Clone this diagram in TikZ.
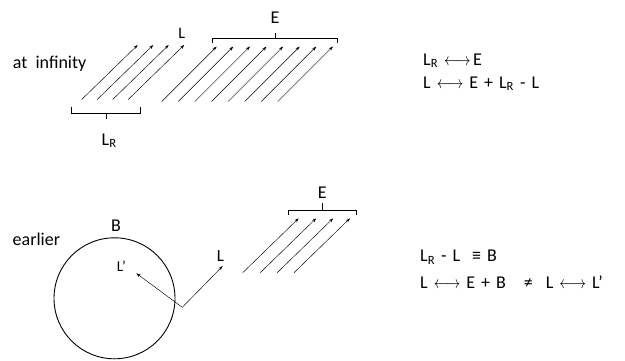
\documentclass[tikz,border=0pt]{standalone}
\usepackage{graphicx}
\usepackage{fontspec}
\setmainfont{Carlito}
\usetikzlibrary{arrows.meta}
\newcommand{\lra}{\scalebox{0.84}[1]{$\longleftrightarrow$}}
\newcommand{\eqfont}{\fontsize{18}{21}\selectfont\spaceskip 6pt\relax}
\begin{document}
\begin{tikzpicture}[x=1pt,y=-1pt,
  ray/.style={line width=0.45pt,-{Stealth[length=4.5pt,width=3pt]}},
  brace/.style={line width=0.8pt},
  lbl/.style={inner sep=0pt,font=\fontsize{18}{21}\selectfont},
  eq/.style={inner sep=0pt,anchor=base west,font=\eqfont}]
\useasboundingbox (0,0) rectangle (625,360);
% top: at infinity
\node[lbl,anchor=base west] (inf) at (12.7,68.3) {at\ \ infinity};
\foreach \i/\x in {1/81.7,2/97.2,3/112.7,4/128.2}{
  \coordinate (la\i) at (\x,99.5);
  \coordinate (lb\i) at (\x+56,45);
  \draw[ray] (la\i) -- (lb\i);
}
\foreach \i in {0,...,7}{
  \coordinate (ea\i) at (161.7+16.6*\i,101.5);
  \coordinate (eb\i) at (216.7+16.6*\i,46.5);
  \draw[ray] (ea\i) -- (eb\i);
}
% E brace top
\coordinate (e1) at (212.3,42.7);
\coordinate (e2) at (212.3,38.3);
\coordinate (e3) at (337.3,38.3);
\coordinate (e4) at (337.3,42.7);
\coordinate (e5) at (275,38.3);
\coordinate (e6) at (275,33);
\draw[brace] (e1) -- (e2) -- (e3) -- (e4) (e5) -- (e6);
\node[lbl,anchor=base] (Etop) at (275,23.3) {E};
\node[lbl,anchor=base,font=\fontsize{16}{19}\selectfont] (Ltop) at (181.7,38.5) {L};
% L_R brace
\coordinate (r1) at (71.7,106.7);
\coordinate (r2) at (71.7,113.3);
\coordinate (r3) at (140,113.3);
\coordinate (r4) at (140,106.7);
\coordinate (r5) at (106,113.3);
\coordinate (r6) at (106,119);
\draw[brace] (r1) -- (r2) -- (r3) -- (r4) (r5) -- (r6);
\node[lbl,anchor=base west] (LR) at (101.5,145) {L\textsubscript{R}};
% equations top
\node[eq] (eq1) at (423,65) {L\textsubscript{R} \lra{}\hspace{2.5pt}E};
\node[eq] (eq2) at (423,88.3) {L \lra{} E + L\textsubscript{R} - L};
% bottom: earlier
\node[lbl,anchor=base west] (earl) at (12.5,245) {earlier};
\node[draw,circle,line width=0.9pt,minimum size=121pt,inner sep=0pt] (circ) at (114.5,298.3) {};
\node[lbl,anchor=base] (B) at (116,231.7) {B};
\coordinate (v) at (182.3,307.3);
\coordinate (lp) at (136.3,273.3);
\coordinate (lq) at (222.7,266);
\draw[ray] (v) -- (lp);
\draw[ray] (v) -- (lq);
\node[lbl,anchor=base west,font=\fontsize{15}{18}\selectfont] (Lp) at (116.7,271.7) {L’};
\node[lbl,anchor=base,font=\fontsize{17}{20}\selectfont] (Lb) at (220.5,261.7) {L};
\foreach \i/\x in {0/242.7,1/260.2,2/277.2,3/294}{
  \coordinate (fa\i) at (\x,272.7);
  \coordinate (fb\i) at (\x+56,218.3);
  \draw[ray] (fa\i) -- (fb\i);
}
\coordinate (f1) at (288.3,215);
\coordinate (f2) at (288.3,210);
\coordinate (f3) at (356,210);
\coordinate (f4) at (356,215);
\coordinate (f5) at (322.3,210);
\coordinate (f6) at (322.3,203.3);
\draw[brace] (f1) -- (f2) -- (f3) -- (f4) (f5) -- (f6);
\node[lbl,anchor=base] (Ebot) at (322.3,198.3) {E};
% equations bottom
\node[eq] (eq3) at (420,261.7) {L\textsubscript{R} - L\hspace{12pt}≡ B};
\node[eq] (eq4) at (420,288.3) {L \lra{} E + B\hspace{18pt}≠\hspace{13pt}L \lra{} L’};
\end{tikzpicture}
\end{document}
